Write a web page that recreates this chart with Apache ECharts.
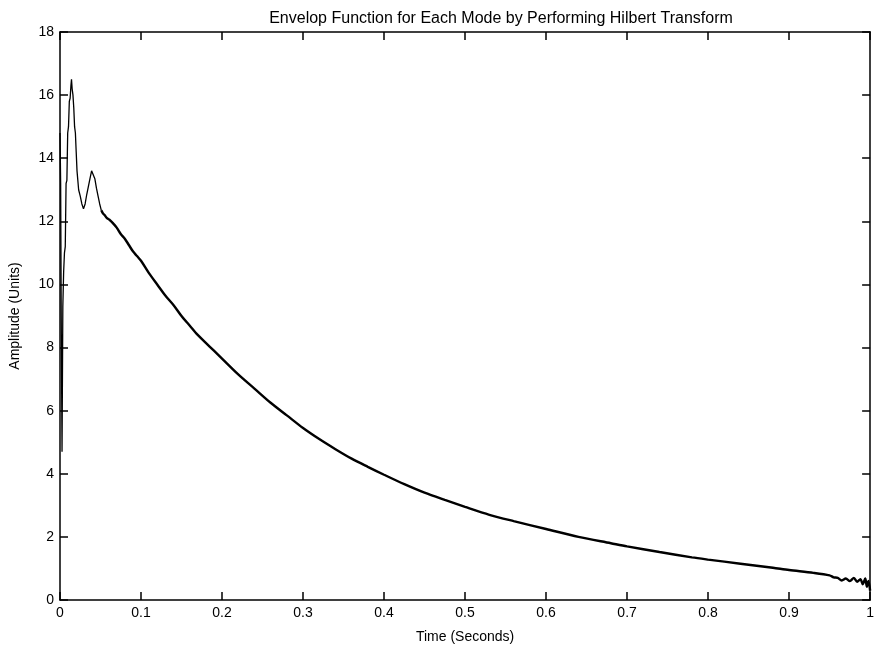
<!DOCTYPE html>
<html>
<head>
<meta charset="utf-8">
<script src="https://cdn.jsdelivr.net/npm/echarts@6/dist/echarts.min.js"></script>
<style>html,body{margin:0;padding:0;background:#fff}#c{width:877px;height:649px}</style>
</head>
<body>
<div id="c"></div>
<script>
var titleText = 'Envelop Function for Each Mode by Performing Hilbert Transform';
var xName = 'Time (Seconds)';
var yName = 'Amplitude (Units)';
var xTicks = [0, 0.1, 0.2, 0.3, 0.4, 0.5, 0.6, 0.7, 0.8, 0.9, 1];
var yTicks = [0, 2, 4, 6, 8, 10, 12, 14, 16, 18];

var times = [
  0.000, 0.0008, 0.0015, 0.0025, 0.0035, 0.0045, 0.0055, 0.0065, 0.0075, 0.0085,
  0.0095, 0.0105, 0.0115, 0.0125, 0.0135, 0.0142, 0.015, 0.016, 0.017, 0.018,
  0.019, 0.020, 0.021, 0.022, 0.023, 0.025, 0.027, 0.029, 0.031, 0.033,
  0.035, 0.037, 0.039, 0.041, 0.043, 0.045, 0.047, 0.049, 0.051, 0.053,
  0.055, 0.058, 0.061, 0.065, 0.070, 0.075, 0.080, 0.085, 0.090, 0.095,
  0.100, 0.110, 0.120, 0.130, 0.140, 0.150, 0.160, 0.170, 0.180, 0.190,
  0.200, 0.220, 0.240, 0.260, 0.280, 0.300, 0.320, 0.340, 0.360, 0.380,
  0.400, 0.425, 0.450, 0.475, 0.500, 0.530, 0.560, 0.600, 0.640, 0.680,
  0.700, 0.740, 0.780, 0.800, 0.840, 0.880, 0.900, 0.930, 0.950, 0.955,
  0.960, 0.965, 0.970, 0.975, 0.980, 0.984, 0.988, 0.991, 0.994, 0.996,
  0.998, 1.000
];
var amplitude = [
  14.8, 13.2, 9.0, 4.7, 9.3, 10.4, 11.0, 11.2, 13.2, 13.3,
  14.8, 15.0, 15.8, 15.9, 16.3, 16.5, 16.2, 16.0, 15.6, 15.0,
  14.8, 14.2, 13.6, 13.3, 13.0, 12.8, 12.55, 12.4, 12.55, 12.85,
  13.1, 13.35, 13.6, 13.55, 13.35, 13.05, 12.8, 12.55, 12.35, 12.25,
  12.2, 12.1, 12.05, 11.95, 11.8, 11.6, 11.45, 11.25, 11.05, 10.9,
  10.75, 10.35, 10.0, 9.65, 9.35, 9.0, 8.7, 8.4, 8.15, 7.9,
  7.65, 7.15, 6.7, 6.25, 5.85, 5.45, 5.1, 4.78, 4.48, 4.22,
  3.97, 3.67, 3.4, 3.17, 2.95, 2.7, 2.5, 2.25, 2.0, 1.8,
  1.7, 1.52, 1.35, 1.28, 1.15, 1.02, 0.95, 0.86, 0.78, 0.72,
  0.7, 0.62, 0.68, 0.6, 0.7, 0.58, 0.66, 0.5, 0.68, 0.42,
  0.6, 0.3
];

var early = [], late = [];
for (var i = 0; i < times.length; i++) {
  if (times[i] <= 0.051) early.push([times[i], amplitude[i]]);
  if (times[i] >= 0.051) late.push([times[i], amplitude[i]]);
}

var FONT = '"Liberation Sans", Arial, sans-serif';
var chart = echarts.init(document.getElementById('c'));
var axisLine = {show: true, onZero: false, lineStyle: {color: '#000', width: 1.5}};
var tick = {show: true, inside: true, length: 8, lineStyle: {color: '#000', width: 1.5}};
chart.setOption({
  animation: false,
  backgroundColor: '#fff',
  title: {
    text: titleText, left: 496, top: 6, textAlign: 'center',
    textStyle: {fontFamily: FONT, fontSize: 16, fontWeight: 'normal', color: '#000'}
  },
  grid: {left: 57, right: 1, top: 32, bottom: 47},
  xAxis: [{
    type: 'value', min: 0, max: 1, interval: 0.1,
    name: xName, nameLocation: 'middle', nameGap: 30,
    nameTextStyle: {fontFamily: FONT, fontSize: 14, color: '#000'},
    axisLine: axisLine, axisTick: tick,
    axisLabel: {fontFamily: FONT, fontSize: 14, color: '#000', margin: 6,
      formatter: function (v) { var r = Math.round(v * 10) / 10; return xTicks.indexOf(r) >= 0 ? String(r) : ''; }},
    splitLine: {show: false}
  }, {
    type: 'value', min: 0, max: 1, interval: 0.1, position: 'top',
    axisLine: axisLine, axisTick: tick, axisLabel: {show: false}, splitLine: {show: false}
  }],
  yAxis: [{
    type: 'value', min: 0, max: 18, interval: 2,
    name: yName, nameLocation: 'middle', nameGap: 38,
    nameTextStyle: {fontFamily: FONT, fontSize: 14, color: '#000'},
    axisLine: axisLine, axisTick: tick,
    axisLabel: {fontFamily: FONT, fontSize: 14, color: '#000', margin: 6},
    splitLine: {show: false}
  }, {
    type: 'value', min: 0, max: 18, interval: 2, position: 'right',
    axisLine: axisLine, axisTick: tick, axisLabel: {show: false}, splitLine: {show: false}
  }],
  series: [{
    type: 'line', data: early, showSymbol: false, symbol: 'none',
    lineStyle: {color: '#000', width: 1.3}
  }, {
    type: 'line', data: late, showSymbol: false, symbol: 'none', smooth: 0.3,
    lineStyle: {color: '#000', width: 2.4}
  }]
});
</script>
</body>
</html>
